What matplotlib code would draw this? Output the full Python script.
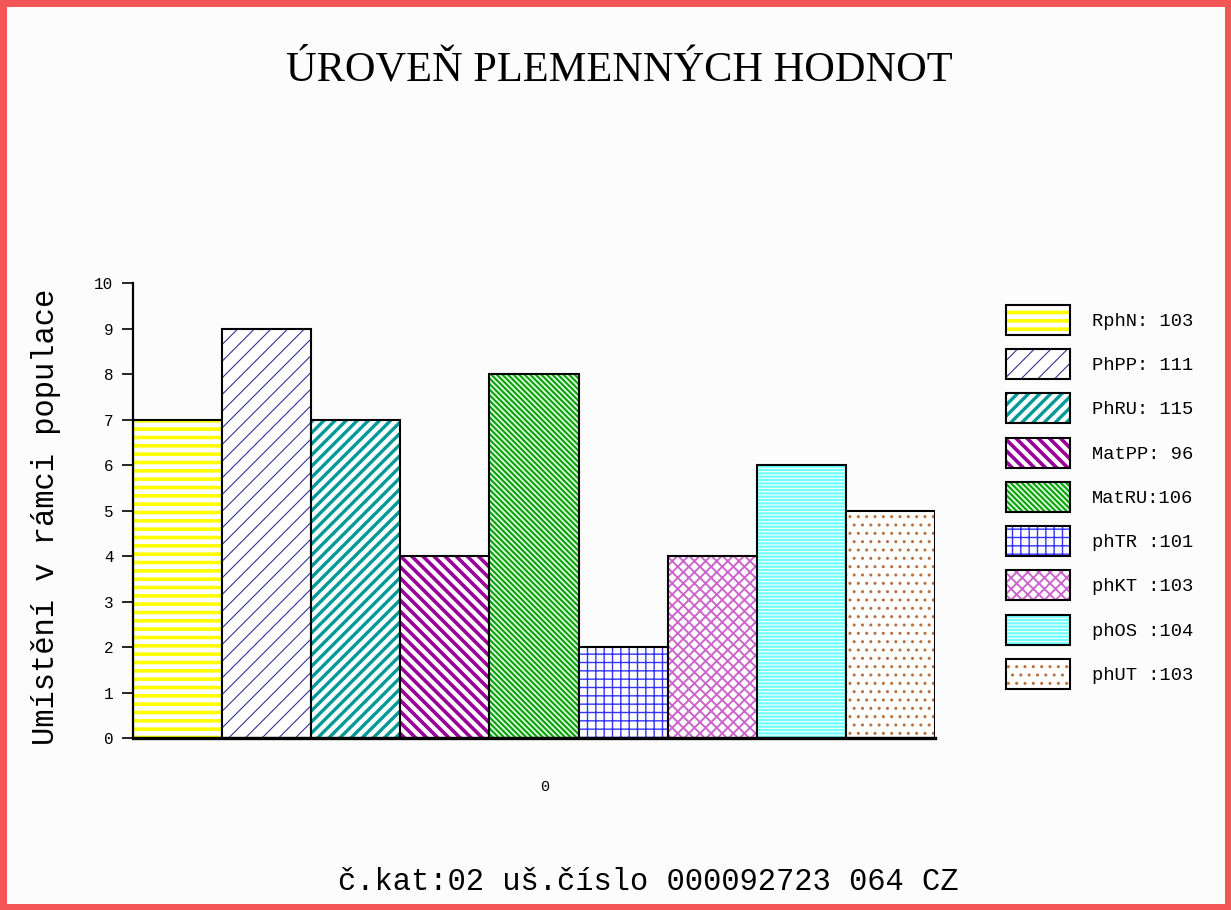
import matplotlib
matplotlib.use("Agg")
import matplotlib.pyplot as plt
from matplotlib.patches import Rectangle
from matplotlib.legend_handler import HandlerTuple

# Hodnoty z grafu
nazvy = ["RphN: 103", "PhPP: 111", "PhRU: 115", "MatPP: 96", "MatRU:106",
         "phTR :101", "phKT :103", "phOS :104", "phUT :103"]
umisteni = [7, 9, 7, 4, 8, 2, 4, 6, 5]
barvy = ["#ffff00", "#333399", "#009999", "#990099", "#00a000",
         "#3333ff", "#cc66cc", "#ffffff", "#b87040"]
vzory = ["--", "//", "///", "\\\\\\", "\\\\\\\\\\\\", "++", "xxx", "-----", ".."]
tloustky = [2.6, 0.8, 2.4, 2.6, 1.4, 1.0, 1.4, 0.8, 1.0]
vyplne = ["white"] * 4 + ["#d8f4d8", "white", "white", "#70ffff", "white"]

mono = "Liberation Mono"

fig = plt.figure(figsize=(12.31, 9.10), dpi=100)
fig.patch.set_facecolor("#fcfcfc")
fig.patch.set_edgecolor("#f25656")
fig.patch.set_linewidth(9)

ax = fig.add_axes([0.108, 0.189, 0.6516, 0.5])
ax.set_facecolor("#fcfcfc")

handles = []
for i, v in enumerate(umisteni):
    with plt.rc_context({"hatch.linewidth": tloustky[i]}):
        b = ax.bar(i, v, width=1, align="edge", facecolor=vyplne[i],
                   edgecolor=barvy[i], hatch=vzory[i], linewidth=0)[0]
    if hasattr(b, "set_hatch_linewidth"):
        b.set_hatch_linewidth(tloustky[i])
    o = ax.bar(i, v, width=1, align="edge", fill=False,
               edgecolor="black", linewidth=1.5)[0]
    handles.append((b, o))

ax.set_xlim(0, 9)
ax.set_ylim(0, 10)
ax.set_yticks(range(11))
ax.set_xticks([4.62])
ax.set_xticklabels(["0"], family=mono, fontsize=11)
ax.tick_params(axis="x", length=0, pad=30)
ax.tick_params(axis="y", length=8, width=1.2, labelsize=11.5, pad=6)
for t in ax.get_yticklabels():
    t.set_family(mono)
for s in ["top", "right"]:
    ax.spines[s].set_visible(False)
ax.spines["left"].set_linewidth(1.6)
ax.spines["bottom"].set_linewidth(2.4)

ax.set_ylabel("Umístění v rámci populace", family=mono, fontsize=22)
ax.yaxis.set_label_coords(-0.09, 0.485)

fig.text(0.503, 0.923, "ÚROVEŇ PLEMENNÝCH HODNOT", family="Liberation Serif",
         fontsize=30.5, ha="center", va="center")
fig.text(0.527, 0.031, "č.kat:02 uš.číslo 000092723 064 CZ", family=mono,
         fontsize=22, ha="center", va="center")

leg = ax.legend(handles, nazvy, handler_map={tuple: HandlerTuple(ndivide=1, pad=0)},
                loc="upper left", bbox_to_anchor=(1.0885, 0.952), frameon=False,
                prop={"family": mono, "size": 13.5}, handlelength=3.4,
                handleheight=2.085, labelspacing=0.76, handletextpad=1.17,
                borderpad=0, borderaxespad=0)

# tloustka srafovani i v legende
for r in leg.findobj(Rectangle):
    h = r.get_hatch()
    if h in vzory and hasattr(r, "set_hatch_linewidth"):
        r.set_hatch_linewidth(tloustky[vzory.index(h)])

fig.savefig("out.png", dpi=100, facecolor=fig.get_facecolor(),
            edgecolor=fig.get_edgecolor())
